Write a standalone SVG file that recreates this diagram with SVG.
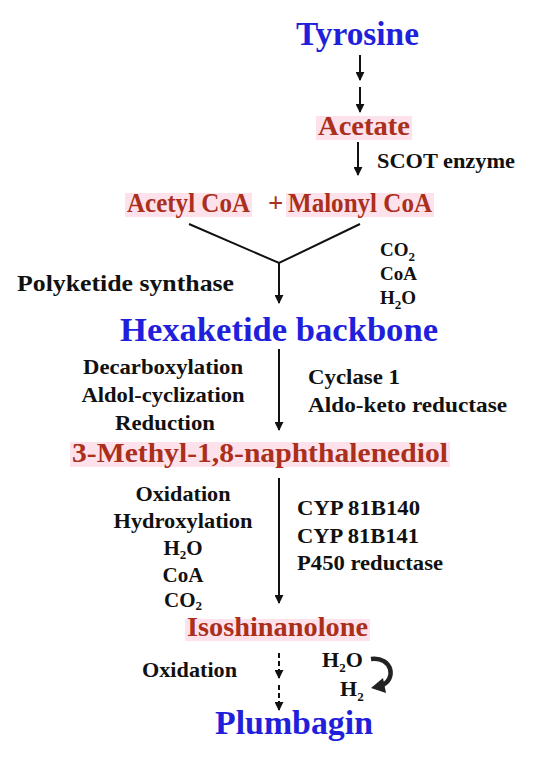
<svg xmlns="http://www.w3.org/2000/svg" width="550" height="765" viewBox="0 0 550 765">
<defs>
<marker id="ah" viewBox="0 0 10 10" refX="9" refY="5" markerWidth="4.5" markerHeight="4.5" orient="auto" markerUnits="strokeWidth"><path d="M0,0 L10,5 L0,10 z" fill="#111"/></marker>
<style>
text{font-family:"Liberation Serif","Times New Roman",serif;font-weight:bold}
.blue{fill:#1f1fdc;font-size:34px}
.red{fill:#aa301c;font-size:27px}
.hl{fill:#fde2ec}
.lbl{fill:#111;font-size:22px}
.chem{fill:#111;font-size:21px}
.sm{fill:#111;font-size:19px}
.sub{font-size:13px}
.ln{stroke:#111;stroke-width:2;fill:none}
.ar{stroke:#111;stroke-width:2;fill:none;marker-end:url(#ah)}
.da{stroke:#111;stroke-width:2;fill:none;stroke-dasharray:5 3;marker-end:url(#ah)}
</style>
</defs>
<rect width="550" height="765" fill="#fff"/>
<g id="connectors">
<path class="ar" d="M360 55 V80"/>
<path class="ar" d="M360 87 V112"/>
<path class="ar" d="M358 142 V175"/>
<path class="ln" d="M189 224 L279 263 L360 224"/>
<path class="ar" d="M279 263 V303"/>
<path class="ar" d="M279 349 V430"/>
<path class="ar" d="M279 478 V603"/>
<path class="da" d="M279 653 V678"/>
<path class="da" d="M279 685 V710"/>
<path d="M371 659 C392 656 398 680 380 686" stroke="#222" stroke-width="4.5" fill="none"/>
<path d="M371 688 L383 678 L386 693 z" fill="#222"/>
</g>
<g id="tyrosine"><text class="blue" x="296" y="45" textLength="123" lengthAdjust="spacingAndGlyphs">Tyrosine</text></g>
<g id="acetate"><rect class="hl" x="316" y="116" width="96" height="24"/><text class="red" x="318" y="135" textLength="92" lengthAdjust="spacingAndGlyphs">Acetate</text></g>
<g id="scot"><text class="lbl" x="377" y="168" textLength="138" lengthAdjust="spacingAndGlyphs">SCOT enzyme</text></g>
<g id="acetylcoa"><rect class="hl" x="125" y="193" width="127" height="24"/><text class="red" x="127" y="212" textLength="123" lengthAdjust="spacingAndGlyphs">Acetyl CoA</text></g>
<g id="malonylcoa"><text class="red" x="268" y="212">+</text><rect class="hl" x="286" y="193" width="148" height="24"/><text class="red" x="288" y="212" textLength="144" lengthAdjust="spacingAndGlyphs">Malonyl CoA</text></g>
<g id="byproducts1">
<text class="sm" x="380" y="256">CO<tspan class="sub" dy="5">2</tspan></text>
<text class="sm" x="380" y="280">CoA</text>
<text class="sm" x="380" y="304">H<tspan class="sub" dy="5">2</tspan><tspan dy="-5">O</tspan></text>
</g>
<g id="pks"><text class="lbl" x="17" y="291" style="font-size:23px" textLength="217" lengthAdjust="spacingAndGlyphs">Polyketide synthase</text></g>
<g id="hexaketide"><text class="blue" x="120" y="341" textLength="318" lengthAdjust="spacingAndGlyphs">Hexaketide backbone</text></g>
<g id="steps1" text-anchor="middle">
<text class="lbl" x="163" y="374" textLength="160" lengthAdjust="spacingAndGlyphs">Decarboxylation</text>
<text class="lbl" x="163" y="402" textLength="163" lengthAdjust="spacingAndGlyphs">Aldol-cyclization</text>
<text class="lbl" x="165" y="430" textLength="100" lengthAdjust="spacingAndGlyphs">Reduction</text>
</g>
<g id="enzymes1">
<text class="lbl" x="308" y="384" textLength="92" lengthAdjust="spacingAndGlyphs">Cyclase 1</text>
<text class="lbl" x="308" y="412" textLength="199" lengthAdjust="spacingAndGlyphs">Aldo-keto  reductase</text>
</g>
<g id="naphthalenediol"><rect class="hl" x="70" y="442" width="380" height="25"/><text class="red" x="72" y="462" textLength="376" lengthAdjust="spacingAndGlyphs">3-Methyl-1,8-naphthalenediol</text></g>
<g id="steps2" text-anchor="middle">
<text class="lbl" x="183" y="501" textLength="95" lengthAdjust="spacingAndGlyphs">Oxidation</text>
<text class="lbl" x="183" y="528" textLength="139" lengthAdjust="spacingAndGlyphs">Hydroxylation</text>
<text class="chem" x="183" y="555">H<tspan class="sub" dy="4">2</tspan><tspan dy="-4">O</tspan></text>
<text class="chem" x="183" y="582">CoA</text>
<text class="chem" x="183" y="607">CO<tspan class="sub" dy="3">2</tspan></text>
</g>
<g id="enzymes2">
<text class="lbl" x="297" y="515" textLength="123" lengthAdjust="spacingAndGlyphs">CYP 81B140</text>
<text class="lbl" x="297" y="543" textLength="122" lengthAdjust="spacingAndGlyphs">CYP 81B141</text>
<text class="lbl" x="297" y="570" textLength="146" lengthAdjust="spacingAndGlyphs">P450 reductase</text>
</g>
<g id="isoshinanolone"><rect class="hl" x="185" y="619" width="185" height="22"/><text class="red" x="187" y="636" textLength="181" lengthAdjust="spacingAndGlyphs">Isoshinanolone</text></g>
<g id="oxidation"><text class="lbl" x="142" y="677" textLength="95" lengthAdjust="spacingAndGlyphs">Oxidation</text></g>
<g id="byproducts2">
<text class="lbl" x="322" y="667">H<tspan class="sub" dy="5">2</tspan><tspan dy="-5">O</tspan></text>
<text class="lbl" x="340" y="696">H<tspan class="sub" dy="5">2</tspan></text>
</g>
<g id="plumbagin"><text class="blue" x="215" y="734" textLength="158" lengthAdjust="spacingAndGlyphs">Plumbagin</text></g>
</svg>
